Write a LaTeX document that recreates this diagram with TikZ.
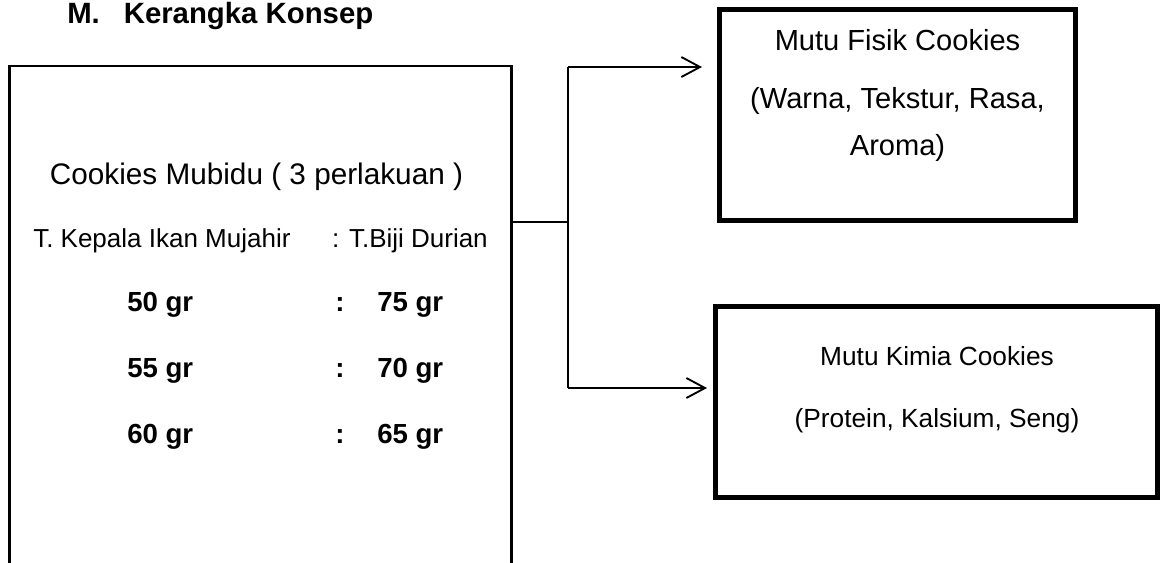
\documentclass[tikz,border=0pt]{standalone}
\usepackage{fontspec}
\setmainfont{Liberation Sans}
\usetikzlibrary{arrows.meta}
\tikzset{
  box/.style={draw, rectangle, inner sep=0pt},
  txt/.style={inner sep=0pt},
  arr/.style={-{Straight Barb[length=14pt,width=15pt]}, line width=1.4pt},
}
\newcommand{\fsz}[1]{\fontsize{#1}{#1}\selectfont}

\begin{document}
\begin{tikzpicture}[x=0.75pt,y=-0.75pt]
  \useasboundingbox (0,0) rectangle (1160,562);
  \clip (0,0) rectangle (1160,562);
  % judul
  \node[txt, anchor=base west] (judul) at (67,23.5) {\fsz{22pt}\bfseries M.\hspace{18pt}Kerangka Konsep};
  % kotak perlakuan
  \node[box, line width=1.7pt, minimum width=376.5pt, minimum height=430.5pt] (perlakuan) at (260.5,353) {};
  \node[txt, anchor=base] (judulkiri) at (256.5,184) {\fsz{22.3pt}Cookies Mubidu ( 3 perlakuan )};
  \node[txt, anchor=base west] (ikan) at (33,247) {\fsz{19.5pt}T. Kepala Ikan Mujahir};
  \node[txt, anchor=base east] (durian) at (488,247) {\fsz{19.5pt}: T.Biji Durian};
  \foreach \a/\b/\y [count=\i] in {50/75/311, 55/70/377, 60/65/443} {
    \node[txt, anchor=base west] (kiri\i) at (127,\y) {\fsz{20.7pt}\bfseries \a\ gr};
    \node[txt, anchor=base] (titik\i) at (340,\y) {\fsz{20.7pt}\bfseries :};
    \node[txt, anchor=base west] (kanan\i) at (377,\y) {\fsz{20.7pt}\bfseries \b\ gr};
  }
  % kotak mutu
  \node[box, line width=3.75pt, minimum width=267pt, minimum height=158.25pt] (fisik) at (897.5,115) {};
  \node[txt, anchor=base] (fisik1) at (897.5,50) {\fsz{21.8pt}Mutu Fisik Cookies};
  \node[txt, anchor=base] (fisik2) at (897.5,108) {\fsz{21.8pt}(Warna, Tekstur, Rasa,};
  \node[txt, anchor=base] (fisik3) at (897.5,155) {\fsz{21.8pt}Aroma)};
  \node[box, line width=3.75pt, minimum width=331.5pt, minimum height=143.6pt] (kimia) at (936.5,402) {};
  \node[txt, anchor=base] (kimia1) at (937,365) {\fsz{19.7pt}Mutu Kimia Cookies};
  \node[txt, anchor=base] (kimia2) at (937,427) {\fsz{19.7pt}(Protein, Kalsium, Seng)};
  % garis penghubung
  \coordinate (cabang) at (568,222);
  \coordinate (atas) at (568,67);
  \coordinate (bawah) at (568,388);
  \draw[line width=1.4pt] (perlakuan.east |- cabang) -- (cabang);
  \draw[line width=1.4pt] (atas) -- (bawah);
  \draw[arr] (atas) -- ([xshift=-11.25pt]fisik.west |- atas);
  \draw[arr] (bawah) -- ([xshift=-4.5pt]kimia.west |- bawah);
\end{tikzpicture}
\end{document}
